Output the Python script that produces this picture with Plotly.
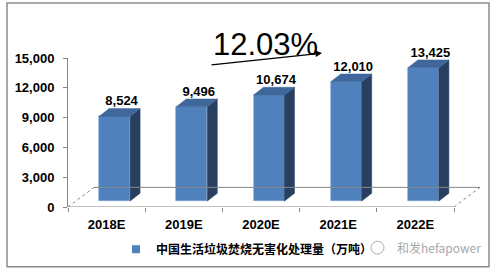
import plotly.graph_objects as go

# ---- data ----
categories = ["2018E", "2019E", "2020E", "2021E", "2022E"]
values = [8524, 9496, 10674, 12010, 13425]
value_labels = ["8,524", "9,496", "10,674", "12,010", "13,425"]
y_tickvals = [0, 3000, 6000, 9000, 12000, 15000]
y_ticktext = ["0", "3,000", "6,000", "9,000", "12,000", "15,000"]
series_name = "中国生活垃圾焚烧无害化处理量（万吨）"
growth_text = "12.03%"
watermark = "和发hefapower"

# ---- layout geometry (pixels) ----
W, H = 496, 276
L, T, B = 68, 58, 210          # plot area left / top / bottom pixel
XU = (454 - 68) / 5.0          # px per category unit
x_lo = -0.5
x_hi = x_lo + (481 - L) / XU
R = 481
YMAX = 15000
YU = (B - T) / YMAX            # px per value unit

def px_dx(p):
    return p / XU

def px_dy(p):
    return p / YU

def paper_x(px):
    return (px - L) / (R - L)

def paper_y(py):
    return (B - py) / (B - T)

# 3D projection constants
sx, sy = px_dx(8), px_dy(6)          # bar shift into depth
bw = px_dx(31)                       # bar front width
ddx, ddy = px_dx(10), px_dy(8)       # bar depth
fdx, fdy = px_dx(26), px_dy(20)      # floor depth

FRONT = "#4F81BD"
SIDE = "#283F60"
TOP = "#3F679B"
GRAY = "#868686"

xs = list(range(len(categories)))
fig = go.Figure()

# side faces and top faces
side_x, side_y, top_x, top_y = [], [], [], []
for c, v in zip(xs, values):
    xl = c + sx - bw / 2
    xr = c + sx + bw / 2
    side_x += [xr, xr + ddx, xr + ddx, xr, xr, None]
    side_y += [sy, sy + ddy, sy + v + ddy, sy + v, sy, None]
    top_x += [xl, xr, xr + ddx, xl + ddx, xl, None]
    top_y += [sy + v, sy + v, sy + v + ddy, sy + v + ddy, sy + v, None]

fig.add_trace(go.Scatter(x=side_x, y=side_y, fill="toself", fillcolor=SIDE,
                         mode="lines", line=dict(color=SIDE, width=0.5),
                         showlegend=False, hoverinfo="skip"))
fig.add_trace(go.Scatter(x=top_x, y=top_y, fill="toself", fillcolor=TOP,
                         mode="lines", line=dict(color=TOP, width=0.5),
                         showlegend=False, hoverinfo="skip"))
# front faces
fig.add_trace(go.Bar(x=[c + sx for c in xs], y=values, base=sy, width=bw,
                     marker=dict(color=FRONT, line=dict(color="#7FA3D0", width=0.6)),
                     showlegend=False, name=series_name))
# value labels
fig.add_trace(go.Scatter(x=[c + sx + ddx * 0.7 for c in xs],
                         y=[v + sy + ddy for v in values],
                         mode="text", text=value_labels, textposition="top center",
                         textfont=dict(family="Liberation Sans", size=13, color="black",
                                       weight="bold"),
                         cliponaxis=False, showlegend=False, hoverinfo="skip"))
# legend entry
fig.add_trace(go.Scatter(x=[None], y=[None], mode="markers", name=series_name,
                         marker=dict(symbol="square", size=8, color=FRONT)))
# invisible trace on tick axis
fig.add_trace(go.Scatter(x=[0], y=[0], xaxis="x2", mode="markers",
                         marker=dict(opacity=0), showlegend=False, hoverinfo="skip"))

shapes = [
    # floor front line
    dict(type="line", xref="x", yref="y", x0=x_lo, y0=0, x1=4.5, y1=0,
         line=dict(color=GRAY, width=1)),
    # floor back line
    dict(type="line", xref="x", yref="y", x0=x_lo + fdx, y0=fdy, x1=4.5 + fdx, y1=fdy,
         line=dict(color=GRAY, width=1)),
    dict(type="line", xref="x", yref="y", x0=x_lo, y0=0, x1=x_lo + fdx, y1=fdy,
         line=dict(color=GRAY, width=1, dash="dot")),
    dict(type="line", xref="x", yref="y", x0=4.5, y0=0, x1=4.5 + fdx, y1=fdy,
         line=dict(color=GRAY, width=1, dash="dot")),
    # outer border
    dict(type="rect", xref="paper", yref="paper",
         x0=paper_x(7), x1=paper_x(489), y0=paper_y(271), y1=paper_y(2),
         line=dict(color="#8C8C8C", width=1.5)),
    # watermark icon
    dict(type="circle", xref="paper", yref="paper",
         x0=paper_x(371), x1=paper_x(384), y0=paper_y(258), y1=paper_y(245),
         line=dict(color="#B0B0B0", width=1), fillcolor="white"),
]

annotations = [
    dict(text=growth_text, xref="paper", yref="paper", x=paper_x(265), y=paper_y(44),
         showarrow=False, font=dict(family="Liberation Sans", size=31, color="black"),
         xanchor="center", yanchor="middle"),
    dict(text="", xref="paper", yref="paper", x=paper_x(322), y=paper_y(53),
         ax=210 - 322, ay=65 - 53, showarrow=True, arrowhead=2, arrowsize=1,
         arrowwidth=1.3, arrowcolor="black"),
    dict(text=watermark, xref="paper", yref="paper", x=paper_x(395), y=paper_y(251),
         showarrow=False, xanchor="left", yanchor="middle",
         font=dict(family="Noto Sans CJK SC", size=12, color="#A8A8A8")),
]

fig.update_layout(
    width=W, height=H,
    margin=dict(l=L, r=W - R, t=T, b=H - B, pad=0),
    paper_bgcolor="white", plot_bgcolor="white",
    shapes=shapes, annotations=annotations,
    bargap=0,
    xaxis=dict(range=[x_lo, x_hi], tickvals=xs, ticktext=categories, ticks="",
               showline=False, showgrid=False, zeroline=False, ticklabelstandoff=8,
               tickfont=dict(family="Liberation Sans", size=13, color="black",
                             weight="bold")),
    xaxis2=dict(range=[x_lo, x_hi], overlaying="x", anchor="y", side="bottom",
                tickvals=[-0.5, 0.5, 1.5, 2.5, 3.5, 4.5], ticks="outside", ticklen=4,
                tickcolor=GRAY, showticklabels=False, showgrid=False,
                zeroline=False, showline=False),
    yaxis=dict(range=[0, YMAX], tickvals=y_tickvals, ticktext=y_ticktext,
               ticks="outside", ticklen=4, tickcolor=GRAY, showline=True,
               linecolor=GRAY, linewidth=1, showgrid=False, zeroline=False,
               ticklabelstandoff=6,
               tickfont=dict(family="Liberation Sans", size=13, color="black",
                             weight="bold")),
    legend=dict(orientation="h", x=paper_x(116), y=paper_y(253), yanchor="middle",
                xanchor="left", bgcolor="rgba(0,0,0,0)",
                font=dict(family="Noto Sans CJK SC", size=12, color="black",
                          weight="bold")),
)

fig.write_html("out.html")
